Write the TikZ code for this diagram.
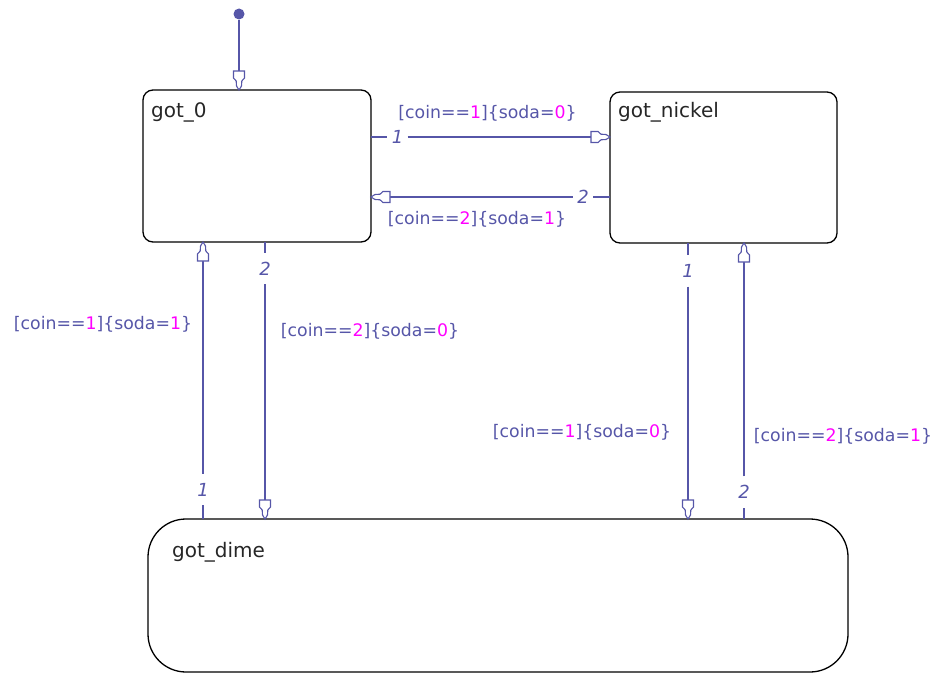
\documentclass[tikz,border=0pt]{standalone}
\usepackage{fontspec}
\setmainfont{DejaVu Sans}
\usetikzlibrary{arrows.meta}
\definecolor{tc}{RGB}{86,86,168}
\definecolor{mag}{RGB}{255,0,255}
\pgfdeclarearrow{
  name = Funnel,
  parameters = {},
  setup code = {
    \pgfarrowssettipend{0pt}
    \pgfarrowssetbackend{-19pt}
    \pgfarrowssetlineend{-18.5pt}
    \pgfarrowshullpoint{0pt}{0pt}
    \pgfarrowshullpoint{-19pt}{5.5pt}
    \pgfarrowshullpoint{-19pt}{-5.5pt}
  },
  drawing code = {
    \pgfpathmoveto{\pgfqpoint{0pt}{0pt}}
    \pgfpathlineto{\pgfqpoint{-4pt}{2.5pt}}
    \pgfpathlineto{\pgfqpoint{-9pt}{2.8pt}}
    \pgfpathlineto{\pgfqpoint{-12pt}{5.5pt}}
    \pgfpathlineto{\pgfqpoint{-19pt}{5.5pt}}
    \pgfpathlineto{\pgfqpoint{-19pt}{-5.5pt}}
    \pgfpathlineto{\pgfqpoint{-12pt}{-5.5pt}}
    \pgfpathlineto{\pgfqpoint{-9pt}{-2.8pt}}
    \pgfpathlineto{\pgfqpoint{-4pt}{-2.5pt}}
    \pgfpathclose
    \pgfsetfillcolor{white}
    \pgfsetmiterjoin
    \pgfusepathqfillstroke
  }
}
\begin{document}
\begin{tikzpicture}[x=1pt,y=-1pt,
  state/.style={draw=black,line width=1.3pt,rectangle,inner sep=0pt,outer sep=0pt},
  sname/.style={anchor=base west,inner sep=0pt,font=\fontsize{20}{20}\selectfont,text=black!85},
  lab/.style={inner sep=0pt,font=\fontsize{17.3}{17.3}\selectfont,text=tc},
  num/.style={inner sep=0pt,minimum width=20pt,minimum height=31pt,font=\fontsize{18}{18}\selectfont\itshape,text=tc},
  tr/.style={draw=tc,line width=1.1pt},
  arr/.style={-Funnel}
]
\useasboundingbox (0,0) rectangle (941,677);
% states
\node[state,rounded corners=10pt,minimum width=228pt,minimum height=152pt] (got0) at (257,166) {};
\node[state,rounded corners=10pt,minimum width=227pt,minimum height=151pt] (gotnickel) at (723.5,167.5) {};
\node[state,rounded corners=38pt,minimum width=700pt,minimum height=153pt] (gotdime) at (498,595.5) {};
\node[sname] (n0) at (151,117) {got\_0};
\node[sname] (nn) at (618,117) {got\_nickel};
\node[sname] (nd) at (172,557) {got\_dime};
% default transition
\node[circle,fill=tc,minimum size=11pt,inner sep=0pt] (init) at (239,14) {};
\draw[tr,arr] (init) -- (got0.north -| init);
% transition numbers
\node[num] (t1) at (397.5,137) {1};
\node[num] (t2) at (583,197) {2};
\node[num] (t3) at (265,268.5) {2};
\node[num] (t4) at (203,489.5) {1};
\node[num] (t5) at (688,271) {1};
\node[num] (t6) at (744,492) {2};
% got_0 -> got_nickel
\draw[tr] (got0.east |- t1) -- (t1.west);
\draw[tr,arr] (t1.east) -- (gotnickel.west |- t1);
% got_nickel -> got_0
\draw[tr] (gotnickel.west |- t2) -- (t2.east);
\draw[tr,arr] (t2.west) -- (got0.east |- t2);
% got_0 -> got_dime
\draw[tr] (got0.south -| t3) -- (t3.north);
\draw[tr,arr] (t3.south) -- (gotdime.north -| t3);
% got_dime -> got_0
\draw[tr] (gotdime.north -| t4) -- (t4.south);
\draw[tr,arr] (t4.north) -- (got0.south -| t4);
% got_nickel -> got_dime
\draw[tr] (gotnickel.south -| t5) -- (t5.north);
\draw[tr,arr] (t5.south) -- (gotdime.north -| t5);
% got_dime -> got_nickel
\draw[tr] (gotdime.north -| t6) -- (t6.south);
\draw[tr,arr] (t6.north) -- (gotnickel.south -| t6);
% labels
\node[lab] (l1) at (487.5,113) {[coin==\textcolor{mag}{1}]\{soda=\textcolor{mag}{0}\}};
\node[lab] (l2) at (477,219) {[coin==\textcolor{mag}{2}]\{soda=\textcolor{mag}{1}\}};
\node[lab] (l3) at (103,324) {[coin==\textcolor{mag}{1}]\{soda=\textcolor{mag}{1}\}};
\node[lab] (l4) at (370,331) {[coin==\textcolor{mag}{2}]\{soda=\textcolor{mag}{0}\}};
\node[lab] (l5) at (582,432) {[coin==\textcolor{mag}{1}]\{soda=\textcolor{mag}{0}\}};
\node[lab] (l6) at (843,436) {[coin==\textcolor{mag}{2}]\{soda=\textcolor{mag}{1}\}};
\end{tikzpicture}
\end{document}
